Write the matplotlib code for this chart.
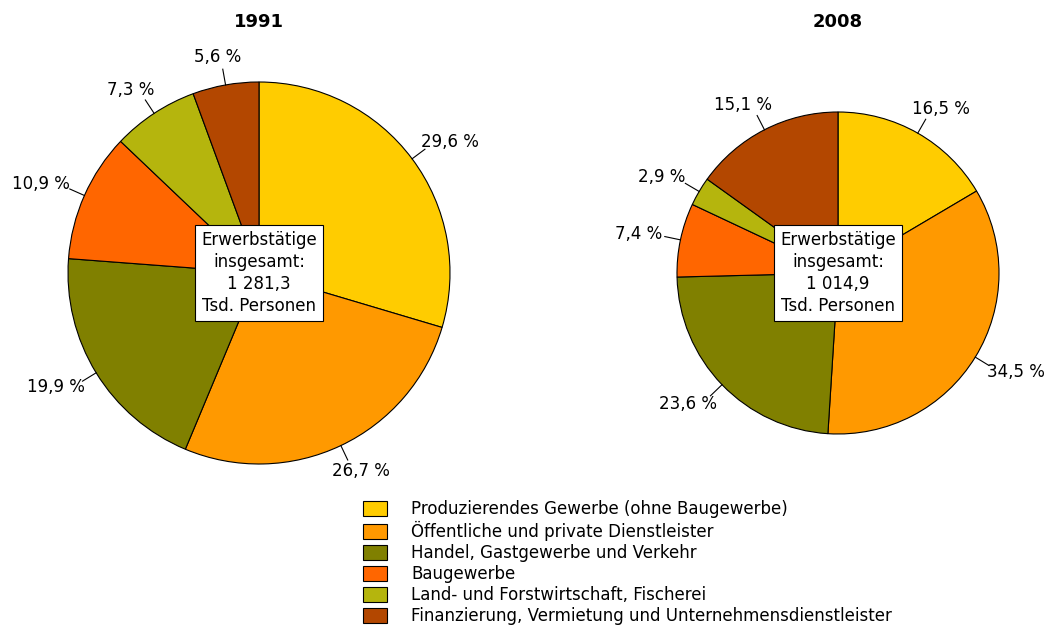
import numpy as np
import matplotlib
matplotlib.use('Agg')
from matplotlib import pyplot as plt
from matplotlib.patches import Patch

plt.rcParams['font.family'] = ['DejaVu Sans']

# data
categories = ["Produzierendes Gewerbe (ohne Baugewerbe)",
              "Öffentliche und private Dienstleister",
              "Handel, Gastgewerbe und Verkehr",
              "Baugewerbe",
              "Land- und Forstwirtschaft, Fischerei",
              "Finanzierung, Vermietung und Unternehmensdienstleister"]
colors = ["#FFCC00", "#FF9900", "#808000", "#FF6600", "#B5B50D", "#B34700"]
shares_1991 = [29.6, 26.7, 19.9, 10.9, 7.3, 5.6]
shares_2008 = [16.5, 34.5, 23.6, 7.4, 2.9, 15.1]
totals = ["1 281,3", "1 014,9"]
years = ["1991", "2008"]

W, H = 1049, 629
fig = plt.figure(figsize=(W / 100, H / 100), dpi=100)
ax = fig.add_axes([0, 0, 1, 1])

# pie layout in pixel coordinates (y measured from bottom)
pies = [(shares_1991, (259, H - 273), 191, totals[0], years[0]),
        (shares_2008, (838, H - 273), 161, totals[1], years[1])]

for shares, center, radius, total, year in pies:
    ax.pie(shares, colors=colors, startangle=90, counterclock=False,
           center=center, radius=radius, frame=True,
           wedgeprops=dict(edgecolor='black', linewidth=0.8))
    cum = np.cumsum([0] + shares[:-1])
    for start, val in zip(cum, shares):
        ang = np.deg2rad(90 - (start + val / 2) * 3.6)
        dx, dy = np.cos(ang), np.sin(ang)
        ax.plot([center[0] + radius * dx, center[0] + (radius + 16) * dx],
                [center[1] + radius * dy, center[1] + (radius + 16) * dy],
                color='black', linewidth=0.8)
        label = f"{val:.1f} %".replace('.', ',')
        half_w = 4.6 * len(label)
        tx = center[0] + (radius + 20) * dx + half_w * dx
        ty = center[1] + (radius + 20) * dy + 8 * dy
        ax.text(tx, ty, label, ha='center', va='center', fontsize=12)
    ax.text(center[0], center[1],
            f"Erwerbstätige\ninsgesamt:\n{total}\nTsd. Personen",
            ha='center', va='center', fontsize=12, linespacing=1.3,
            bbox=dict(boxstyle='square,pad=0.35', facecolor='white',
                      edgecolor='black', linewidth=0.8))
    ax.text(center[0], H - 22, year, ha='center', va='center',
            fontsize=13, fontweight='bold')

ax.set_xlim(0, W)
ax.set_ylim(0, H)
ax.set_aspect('equal')
ax.axis('off')

handles = [Patch(facecolor=c, edgecolor='black', linewidth=0.8) for c in colors]
fig.legend(handles, categories, loc='upper left',
           bbox_to_anchor=(363 / W, 1 - 500 / H), frameon=False,
           borderpad=0, borderaxespad=0,
           fontsize=12, handlelength=1.45, handleheight=1.0,
           handletextpad=1.45, labelspacing=0.18)

fig.savefig("out.png", dpi=100)
